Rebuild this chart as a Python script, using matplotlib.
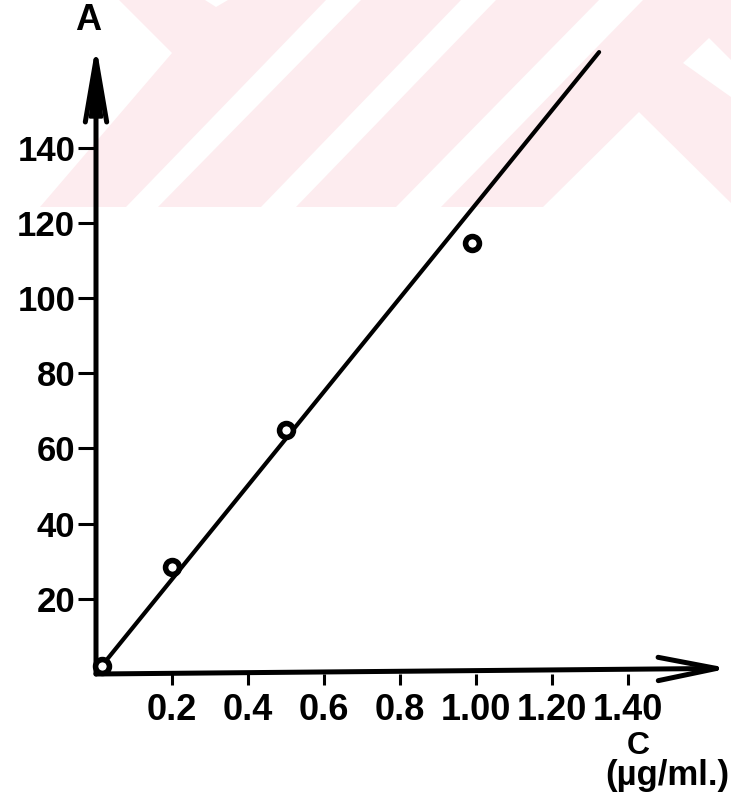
import matplotlib
matplotlib.use("Agg")
import matplotlib.pyplot as plt
from matplotlib.patches import Polygon, Rectangle

# ---- data ----
conc = [0.015, 0.2, 0.5, 0.99]          # C (µg/ml)
absorb = [2.0, 28.5, 65.0, 114.5]       # A
fit_x = [0.01, 1.324]
fit_y = [1.5, 165.4]
xticks = [0.2, 0.4, 0.6, 0.8, 1.0, 1.2, 1.4]
xticklabels = ["0.2", "0.4", "0.6", "0.8", "1.00", "1.20", "1.40"]
yticks = [20, 40, 60, 80, 100, 120, 140]
yticklabels = ["20", "40", "60", "80", "100", "120", "140"]

W, H = 731, 805
fig = plt.figure(figsize=(W / 100, H / 100), dpi=100)
plt.rcParams['font.family'] = ['Liberation Sans', 'DejaVu Sans']

def px(pts):
    return [(x / W, 1 - y / H) for x, y in pts]

# faint watermark band at the top
pink = '#fdecef'
fig.add_artist(Rectangle((0, 1 - 207 / H), 1, 207 / H, transform=fig.transFigure,
                         facecolor=pink, edgecolor='none', zorder=-2))
whites = [
    [(0, 0), (119, 0), (172, 53), (40, 207), (0, 207)],
    [(205, 0), (228, 0), (216, 7)],
    [(126, 207), (158, 207), (361, 0), (326, 0)],
    [(261, 207), (296, 207), (496, 0), (461, 0)],
    [(396, 207), (441, 207), (643, 0), (599, 0)],
    [(639, 112), (543, 207), (735, 207)],
    [(709, 38), (683, 63), (731, 97), (731, 60)],
]
for poly in whites:
    fig.add_artist(Polygon(px(poly), closed=True, transform=fig.transFigure,
                           facecolor='white', edgecolor='none', zorder=-1))

ox, oy = 96, 674
sx, sy = 380.0, 3.76
xmax = (723 - ox) / sx
ymax = (oy - 45) / sy
ax = fig.add_axes([ox / W, (H - oy) / H, (723 - ox) / W, (oy - 45) / H])
ax.patch.set_alpha(0)
ax.set_xlim(0, xmax)
ax.set_ylim(0, ymax)
for s in ax.spines.values():
    s.set_visible(False)

# axes with arrows
ax.annotate('', xy=(0, 1), xytext=(0, 0), xycoords='axes fraction',
            arrowprops=dict(arrowstyle='->,head_length=3.2,head_width=0.55',
                            lw=3.6, color='black', shrinkA=0, shrinkB=0,
                            mutation_scale=14), annotation_clip=False)
ax.annotate('', xy=(0, 1), xytext=(0, 0.93), xycoords='axes fraction',
            arrowprops=dict(arrowstyle='-|>,head_length=3.0,head_width=0.3',
                            lw=2, color='black', shrinkA=0, shrinkB=0,
                            mutation_scale=14), annotation_clip=False)
ax.annotate('', xy=(1.01, 0.009), xytext=(0, 0), xycoords='axes fraction',
            arrowprops=dict(arrowstyle='->,head_length=3.0,head_width=0.6',
                            lw=3.6, color='black', shrinkA=0, shrinkB=0,
                            mutation_scale=14), annotation_clip=False)

ax.set_xticks(xticks)
ax.set_xticklabels(xticklabels)
ax.set_yticks(yticks)
ax.set_yticklabels(yticklabels)
ax.tick_params(axis='y', direction='out', length=13, width=2.2, pad=2,
               labelsize=25, color='black')
ax.tick_params(axis='x', direction='out', length=8, width=2.2, pad=6,
               labelsize=26, color='black')
for lab in ax.get_xticklabels() + ax.get_yticklabels():
    lab.set_fontweight('bold')

# fitted line and measured points
ax.plot(fit_x, fit_y, color='black', lw=3, solid_capstyle='round', clip_on=False)
ax.plot(conc, absorb, linestyle='none', marker='o', markersize=10,
        markerfacecolor='white', markeredgecolor='black', markeredgewidth=4,
        clip_on=False, zorder=3)

fig.text(88 / W, 1 - 20 / H, 'A', ha='center', va='center', fontsize=26,
         fontweight='bold')
fig.text(638 / W, 1 - 746 / H, 'C', ha='center', va='center', fontsize=23,
         fontweight='bold')
fig.text(729 / W, 1 - 775 / H, '(µg/ml.)', ha='right', va='center', fontsize=25,
         fontweight='bold')

fig.savefig('out.png', dpi=100)
